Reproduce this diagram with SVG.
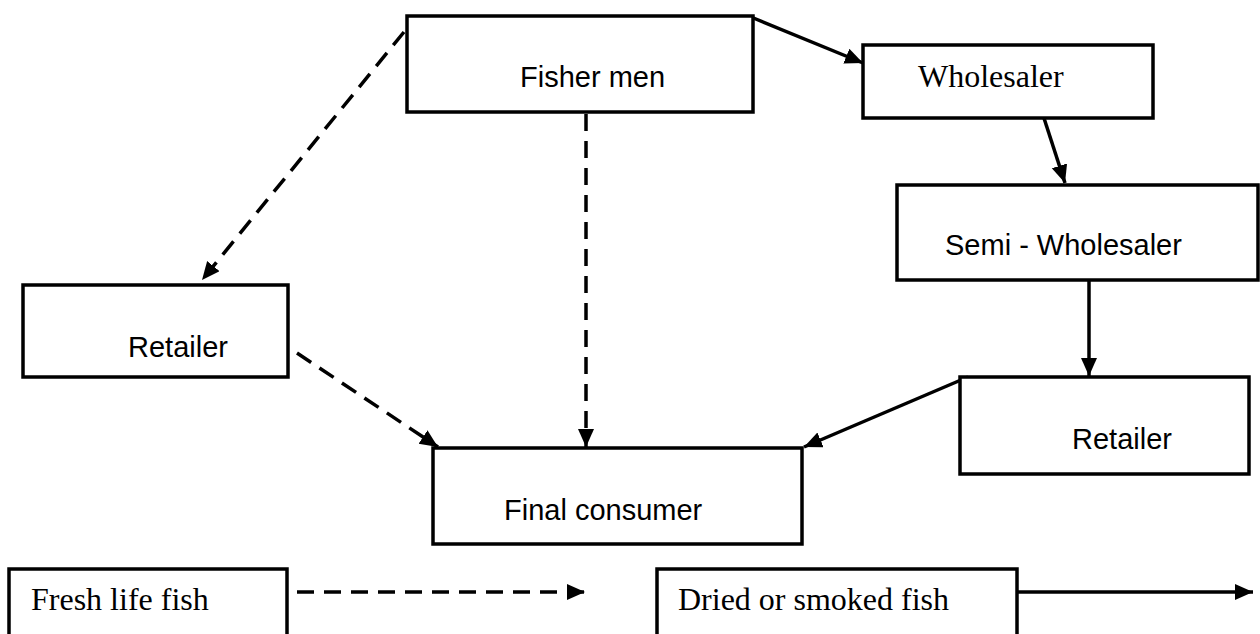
<svg xmlns="http://www.w3.org/2000/svg" width="1260" height="634" viewBox="0 0 1260 634">
<style>
.box{fill:#fff;stroke:#000;stroke-width:3.5}
.sans{font-family:"Liberation Sans",Arial,sans-serif;font-size:29px;fill:#000}
.serif{font-family:"Liberation Serif","Times New Roman",serif;font-size:32px;fill:#000}
.solid{stroke:#000;stroke-width:3.5;fill:none;marker-end:url(#ah)}
.dash{stroke:#000;stroke-width:3.5;fill:none;stroke-dasharray:17 10;marker-end:url(#ah)}
</style>
<defs>
<marker id="ah" markerUnits="userSpaceOnUse" markerWidth="20" markerHeight="18" refX="18" refY="8" orient="auto">
<path d="M0,0 L18,8 L0,16 z" fill="#000"/>
</marker>
</defs>
<rect width="1260" height="634" fill="#fff"/>
<g id="connectors">
<line class="dash" x1="404" y1="32" x2="202" y2="280"/>
<line class="dash" x1="297" y1="353" x2="438" y2="447"/>
<line class="dash" x1="586" y1="114" x2="586" y2="447"/>
<line class="solid" x1="751" y1="17" x2="863" y2="63"/>
<line class="solid" x1="1042" y1="112" x2="1065" y2="183"/>
<line class="solid" x1="1089" y1="280" x2="1089" y2="376"/>
<line class="solid" x1="968" y1="377" x2="804" y2="447"/>
</g>
<g id="fishermen">
<rect class="box" x="407" y="16" width="346" height="96"/>
<text class="sans" x="520" y="87">Fisher men</text>
</g>
<g id="wholesaler">
<rect class="box" x="863" y="45" width="290" height="73"/>
<text class="serif" x="918" y="87">Wholesaler</text>
</g>
<g id="semiwholesaler">
<rect class="box" x="897" y="185" width="361" height="95"/>
<text class="sans" x="945" y="255">Semi - Wholesaler</text>
</g>
<g id="retailer-left">
<rect class="box" x="23" y="285" width="265" height="92"/>
<text class="sans" x="128" y="357">Retailer</text>
</g>
<g id="retailer-right">
<rect class="box" x="960" y="377" width="289" height="97"/>
<text class="sans" x="1072" y="449">Retailer</text>
</g>
<g id="finalconsumer">
<rect class="box" x="433" y="448" width="369" height="96"/>
<text class="sans" x="504" y="520">Final consumer</text>
</g>
<g id="legend-fresh">
<rect class="box" x="9" y="569" width="278" height="80"/>
<text class="serif" x="31" y="610">Fresh life fish</text>
<line class="dash" x1="297" y1="592" x2="585" y2="592"/>
</g>
<g id="legend-dried">
<rect class="box" x="657" y="569" width="360" height="80"/>
<text class="serif" x="678" y="610">Dried or smoked fish</text>
<line class="solid" x1="1017" y1="592" x2="1253" y2="592"/>
</g>
</svg>
